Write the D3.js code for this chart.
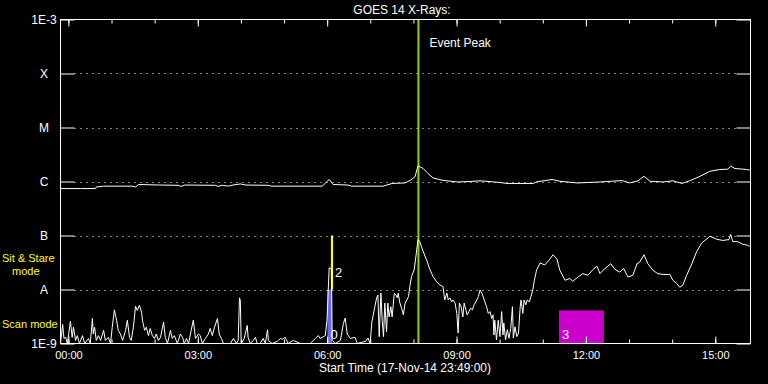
<!DOCTYPE html>
<html><head><meta charset="utf-8">
<script src="https://cdn.jsdelivr.net/npm/d3@7"></script>
<style>
html,body{margin:0;padding:0;background:#000;}
svg{display:block;}
text{font-family:"Liberation Sans",Arial,sans-serif;fill:#fff;}
</style></head>
<body>
<svg id="c" width="768" height="384"></svg>
<script>
// ---------- data ----------
const titleText = "GOES 14 X-Rays:";
const startTime = Date.UTC(2014, 10, 17, 23, 49, 0); // 17-Nov-14 23:49:00
const spanHours = 16;
const axisTitle = "Start Time (17-Nov-14 23:49:00)";
const levelValues = [1e-9, 1e-8, 1e-7, 1e-6, 1e-5, 1e-4, 1e-3];
const levelLabels = ["1E-9", "A", "B", "C", "M", "X", "1E-3"];
const gridLevels = [1e-8, 1e-7, 1e-6, 1e-5, 1e-4];
const eventPeakHour = 8.30;
const eventLabel = "Event Peak";
const modeCaptions = ["Sit & Stare", "mode", "Scan mode"];

// long channel (1-8 A): [hours since start, flux W/m^2]
const longChannel = [
 [0.00,7.4e-7],[0.46,7.4e-7],[0.81,7.4e-7],[0.83,7.9e-7],[1.00,8.2e-7],[1.67,8.2e-7],[1.74,7.9e-7],
 [1.81,8.8e-7],[2.30,8.6e-7],[2.73,8.5e-7],[2.80,8.1e-7],[2.88,8.6e-7],[3.59,8.5e-7],[3.65,8.1e-7],
 [3.75,8.5e-7],[3.89,8.2e-7],[4.00,8.6e-7],[4.17,9.0e-7],[4.30,8.6e-7],[4.82,8.5e-7],[4.90,8.2e-7],
 [6.07,8.2e-7],[6.23,1.09e-6],[6.32,8.8e-7],[6.67,8.6e-7],[6.75,8.2e-7],[7.48,8.2e-7],[7.69,9.2e-7],
 [7.99,9.4e-7],[8.11,1.05e-6],[8.22,1.22e-6],[8.29,1.95e-6],[8.41,1.74e-6],[8.52,1.41e-6],[8.64,1.16e-6],
 [8.87,1.05e-6],[9.20,9.8e-7],[9.50,1.0e-6],[9.73,1.03e-6],[10.19,9.6e-7],[10.35,9.2e-7],[10.96,9.2e-7],
 [11.05,9.9e-7],[11.40,1.09e-6],[11.58,1.01e-6],[11.98,9.4e-7],[12.51,9.8e-7],[13.02,1.04e-6],[13.20,9.4e-7],
 [13.39,1.03e-6],[13.53,1.25e-6],[13.67,1.01e-6],[13.97,9.8e-7],[14.20,1.03e-6],[14.41,9.2e-7],[14.59,1.03e-6],
 [14.83,1.25e-6],[15.06,1.55e-6],[15.29,1.67e-6],[15.47,1.69e-6],[15.54,1.92e-6],[15.64,1.74e-6],[15.91,1.67e-6],
 [15.98,1.62e-6]
];

// short channel (0.5-4 A): [hours since start, flux W/m^2]
const shortChannel = [
 [0.00,8e-10],[0.05,2.25e-9],[0.08,1.24e-9],[0.12,1.3e-9],[0.16,8e-10],[0.23,2.6e-9],[0.27,1.3e-9],[0.30,2.0e-9],
 [0.35,1.14e-9],[0.39,1.4e-9],[0.44,8e-10],[0.51,1.4e-9],[0.56,8e-10],[0.65,1.24e-9],[0.69,8e-10],[0.74,2.9e-9],
 [0.76,1.5e-9],[0.79,2.0e-9],[0.83,1.14e-9],[0.88,1.4e-9],[0.93,1.14e-9],[1.00,1.75e-9],[1.04,1.14e-9],[1.11,1.3e-9],
 [1.16,8e-10],[1.20,2.0e-9],[1.25,4.2e-9],[1.30,2.7e-9],[1.34,1.75e-9],[1.39,1.5e-9],[1.44,1.14e-9],[1.51,1.75e-9],
 [1.55,2.7e-9],[1.60,1.3e-9],[1.64,1.14e-9],[1.69,2.0e-9],[1.74,4.9e-9],[1.78,4.1e-9],[1.83,5.1e-9],[1.88,3.8e-9],
 [1.90,2.7e-9],[1.95,1.75e-9],[1.99,2.0e-9],[2.04,1.4e-9],[2.08,1.9e-9],[2.13,1.4e-9],[2.18,1.24e-9],[2.22,1.5e-9],
 [2.27,1.14e-9],[2.32,1.3e-9],[2.39,2.5e-9],[2.43,1.3e-9],[2.48,8e-10],[2.55,1.75e-9],[2.59,1.24e-9],[2.64,1.4e-9],
 [2.71,8e-10],[2.78,1.5e-9],[2.83,1.3e-9],[2.87,8e-10],[2.92,1.24e-9],[2.97,8e-10],[3.03,1.75e-9],[3.08,2.7e-9],
 [3.13,1.24e-9],[3.20,1.5e-9],[3.24,1.4e-9],[3.29,8e-10],[3.36,1.24e-9],[3.43,1.5e-9],[3.47,1.9e-9],[3.52,1.4e-9],
 [3.57,2.0e-9],[3.64,2.9e-9],[3.68,1.5e-9],[3.73,1.24e-9],[3.78,8e-10],[3.85,9e-10],[3.94,8e-10],[4.01,1.24e-9],
 [4.08,8e-10],[4.12,1.14e-9],[4.15,7.0e-9],[4.17,6.3e-9],[4.19,8e-10],[4.26,1.24e-9],[4.33,2.16e-9],[4.35,1.3e-9],
 [4.40,8e-10],[4.47,1.14e-9],[4.52,1.3e-9],[4.56,8e-10],[4.63,8e-10],[4.70,1.24e-9],[4.75,8e-10],[4.80,1.8e-9],
 [4.82,1.14e-9],[4.91,8e-10],[5.03,1.1e-9],[5.10,1.24e-9],[5.14,1.2e-9],[5.21,1.3e-9],[5.28,8e-10],[5.40,1.14e-9],
 [5.56,8e-10],[5.79,8e-10],[5.91,1.24e-9],[5.98,1.4e-9],[6.02,1.24e-9],[6.07,1.3e-9],[6.14,1.4e-9],[6.18,2.7e-9],
 [6.23,2.5e-8],[6.28,2.45e-8],[6.30,1.14e-9],[6.37,8e-10],[6.49,1.14e-9],[6.56,2.35e-9],[6.60,2.95e-9],[6.65,1.5e-9],
 [6.72,1.24e-9],[6.83,1.3e-9],[6.88,8e-10],[7.08,1.1e-9],[7.13,1.26e-9],[7.18,8e-10],[7.22,2.5e-9],[7.29,4.8e-9],
 [7.33,7.0e-9],[7.36,7.9e-9],[7.39,1.34e-9],[7.43,8.6e-9],[7.46,2.7e-9],[7.49,1.34e-9],[7.52,5.6e-9],[7.56,1.65e-9],
 [7.59,5.6e-9],[7.62,3.1e-9],[7.66,4.8e-9],[7.69,3.1e-9],[7.74,8.5e-9],[7.78,7.9e-9],[7.81,7.0e-9],[7.83,8.5e-9],
 [7.87,5.6e-9],[7.91,4.5e-9],[7.95,3.4e-9],[7.99,5.6e-9],[8.03,6.4e-9],[8.07,7.4e-9],[8.10,1.13e-8],[8.14,1.73e-8],
 [8.20,2.3e-8],[8.24,4.0e-8],[8.29,8.4e-8],[8.33,7.7e-8],[8.40,5.3e-8],[8.49,3.5e-8],[8.57,2.3e-8],[8.64,1.73e-8],
 [8.72,1.39e-8],[8.80,1.21e-8],[8.87,1.13e-8],[8.91,6.4e-9],[8.96,8.6e-9],[8.99,6.4e-9],[9.03,7.0e-9],[9.07,5.9e-9],
 [9.10,6.4e-9],[9.15,5.6e-9],[9.19,3.6e-9],[9.22,1.56e-9],[9.25,5.6e-9],[9.29,4.8e-9],[9.33,3.1e-9],[9.36,5.6e-9],
 [9.40,4.2e-9],[9.43,3.4e-9],[9.47,3.9e-9],[9.51,4.5e-9],[9.55,4.2e-9],[9.59,5.2e-9],[9.63,5.9e-9],[9.69,7.4e-9],
 [9.73,9.8e-9],[9.77,8.5e-9],[9.80,7.4e-9],[9.84,5.9e-9],[9.88,4.8e-9],[9.92,3.6e-9],[9.96,3.9e-9],[10.00,2.9e-9],
 [10.03,3.4e-9],[10.05,1.44e-9],[10.07,2.7e-9],[10.11,1.16e-9],[10.15,2.7e-9],[10.19,1.34e-9],[10.23,3.9e-9],[10.26,1.44e-9],
 [10.28,2.4e-9],[10.32,1.16e-9],[10.36,1.8e-9],[10.40,1.25e-9],[10.44,1.9e-9],[10.48,4.8e-9],[10.50,1.26e-9],[10.54,2.05e-9],
 [10.58,1.34e-9],[10.62,1.56e-9],[10.66,4.8e-9],[10.68,6.4e-9],[10.72,3.6e-9],[10.75,6.4e-9],[10.79,5.2e-9],[10.82,6.4e-9],
 [10.87,5.9e-9],[10.91,7.4e-9],[10.95,9.8e-9],[10.99,1.5e-8],[11.04,2.3e-8],
 [11.12,3.1e-8],[11.23,2.85e-8],[11.33,3.5e-8],[11.42,4.4e-8],[11.51,3.7e-8],[11.58,2.26e-8],[11.70,1.48e-8],[11.81,1.6e-8],
 [11.88,1.42e-8],[12.00,1.7e-8],[12.11,1.97e-8],[12.23,1.83e-8],[12.35,2.35e-8],[12.44,2.7e-8],[12.51,1.97e-8],[12.62,2.44e-8],
 [12.76,3.0e-8],[12.86,2.35e-8],[12.97,2.1e-8],[13.06,2.44e-8],[13.16,1.7e-8],[13.27,1.83e-8],[13.37,3.0e-8],[13.43,3.2e-8],
 [13.53,4.4e-8],[13.62,3.0e-8],[13.74,2.26e-8],[13.85,1.97e-8],[13.97,1.9e-8],[14.13,1.9e-8],[14.20,1.48e-8],[14.29,1.29e-8],
 [14.36,1.1e-8],[14.43,1.2e-8],[14.52,1.83e-8],[14.64,3.0e-8],[14.75,5.0e-8],[14.87,7.3e-8],[14.99,8.7e-8],[15.06,9.7e-8],
 [15.22,8.5e-8],[15.36,8.1e-8],[15.50,8.4e-8],[15.54,1.05e-7],[15.59,7.7e-8],[15.70,7.7e-8],[15.82,6.9e-8],[15.93,6.6e-8],
 [15.98,6.3e-8]
];

// observing-mode blocks: label, start hour, end hour, low flux, high flux
const modeLabels = ["0", "2", "3"];
const modeStart  = [6.19, 6.27, 11.56];
const modeEnd    = [6.30, 6.32, 12.60];
const modeLow    = [1e-9, 1e-8, 1e-9];
const modeHigh   = [1e-8, 1e-7, 4.1e-9];
const modeColorByLabel = {"0": "#6666ff", "2": "#ffff00", "3": "#cc00cc"};

// ---------- drawing ----------
const svg = d3.select("#c");
svg.append("rect").attr("width", 768).attr("height", 384).attr("fill", "#000");

const L = 60.5, R = 750.5, T = 19.5, B = 343.5;
const hourToDate = h => new Date(startTime + h * 3600000);
const x = d3.scaleUtc().domain([hourToDate(0), hourToDate(spanHours)]).range([L, R]);
const y = d3.scaleLog().domain([1e-9, 1e-3]).range([B, T]).clamp(true);

// mode blocks
modeLabels.forEach((lab, i) => {
  const x0 = x(hourToDate(modeStart[i])), x1 = x(hourToDate(modeEnd[i]));
  svg.append("rect")
    .attr("x", x0).attr("y", y(modeHigh[i]))
    .attr("width", x1 - x0).attr("height", y(modeLow[i]) - y(modeHigh[i]))
    .attr("fill", modeColorByLabel[lab]);
});

// grid lines (dotted)
svg.append("g").selectAll("line").data(gridLevels).join("line")
  .attr("x1", L + 14).attr("x2", R - 14)
  .attr("y1", d => Math.round(y(d)) + 0.5).attr("y2", d => Math.round(y(d)) + 0.5)
  .attr("stroke", "#fff").attr("stroke-width", 1).attr("stroke-dasharray", "1,5");

// event peak line
const xe = x(hourToDate(eventPeakHour));
svg.append("line").attr("x1", xe).attr("x2", xe).attr("y1", T).attr("y2", B)
  .attr("stroke", "#9acd00").attr("stroke-width", 2);
svg.append("text").attr("x", xe + 11).attr("y", 47).attr("font-size", 12).text(eventLabel);

// curves
const line = d3.line().x(d => x(hourToDate(d[0]))).y(d => y(d[1]));
svg.append("path").datum(longChannel).attr("d", line)
  .attr("fill", "none").attr("stroke", "#fff").attr("stroke-width", 1);
svg.append("path").datum(shortChannel).attr("d", line)
  .attr("fill", "none").attr("stroke", "#fff").attr("stroke-width", 1);

// mode labels
modeLabels.forEach((lab, i) => {
  const x0 = x(hourToDate(modeStart[i]));
  const by = y(modeLow[i]) - (modeLow[i] > 1e-9 ? 13 : 5);
  svg.append("text").attr("x", x0 + (i === 1 ? 4 : 3)).attr("y", by)
    .attr("font-size", 13).text(lab);
});

// frame
svg.append("rect").attr("x", L).attr("y", T).attr("width", R - L).attr("height", B - T)
  .attr("fill", "none").attr("stroke", "#fff").attr("stroke-width", 1);

// x axes: minor hourly ticks and major 3-hour ticks with labels
const hourly = d3.utcHour.every(1).range(hourToDate(0), hourToDate(spanHours));
const major = hourly.filter(d => d.getUTCHours() % 3 === 0);
const fmt = d3.utcFormat("%H:%M");

function styleAxis(g) {
  g.select(".domain").remove();
  g.selectAll(".tick line").attr("stroke", "#fff");
  g.selectAll(".tick text").attr("fill", "#fff").attr("font-family", '"Liberation Sans",Arial,sans-serif');
}
svg.append("g").attr("transform", `translate(0,${B})`)
  .call(d3.axisBottom(x).tickValues(hourly).tickSize(-4).tickFormat(""))
  .call(styleAxis);
svg.append("g").attr("transform", `translate(0,${B})`)
  .call(d3.axisBottom(x).tickValues(major).tickSize(-7).tickPadding(8).tickFormat(fmt))
  .call(styleAxis).selectAll(".tick text").attr("font-size", 11);
svg.append("g").attr("transform", `translate(0,${T})`)
  .call(d3.axisTop(x).tickValues(hourly).tickSize(-4).tickFormat(""))
  .call(styleAxis);
svg.append("g").attr("transform", `translate(0,${T})`)
  .call(d3.axisTop(x).tickValues(major).tickSize(-7).tickFormat(""))
  .call(styleAxis);

// y axes
svg.append("g").attr("transform", `translate(${L},0)`)
  .call(d3.axisLeft(y).tickValues(levelValues).tickSize(-14).tickFormat((d, i) => levelLabels[i]))
  .call(styleAxis)
  .selectAll(".tick text").attr("font-size", 12).attr("text-anchor", "middle").attr("x", 44 - L);
svg.append("g").attr("transform", `translate(${R},0)`)
  .call(d3.axisRight(y).tickValues(levelValues).tickSize(-14).tickFormat(""))
  .call(styleAxis);

// titles
svg.append("text").attr("x", 402).attr("y", 14).attr("text-anchor", "middle")
  .attr("font-size", 12).text(titleText);
svg.append("text").attr("x", 405).attr("y", 372).attr("text-anchor", "middle")
  .attr("font-size", 12).text(axisTitle);

// mode captions (yellow)
const capX = [2, 12, 2], capY = [261.5, 274.5, 328];
modeCaptions.forEach((t, i) => {
  svg.append("text").attr("x", capX[i]).attr("y", capY[i]).attr("font-size", 11)
    .style("fill", "#ffff00").text(t);
});
</script>
</body></html>
